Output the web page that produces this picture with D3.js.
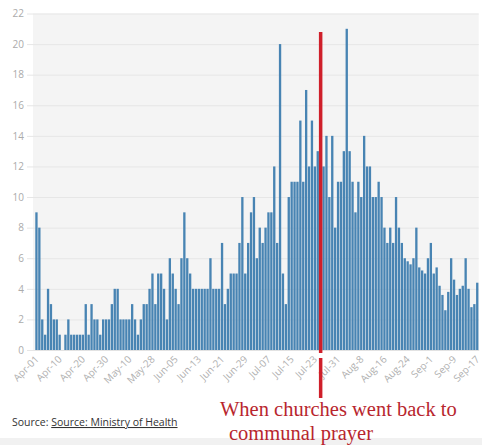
<!DOCTYPE html>
<html><head><meta charset="utf-8">
<script src="https://cdn.jsdelivr.net/npm/d3@7"></script>
<style>
body{margin:0;background:#fff;}
svg{display:block;}
</style>
</head><body>
<svg id="chart" width="482" height="445"></svg>
<script>
// ---- data ----
const values = [
  9,8,2,1,4,3,2,2,1,0,1,2,1,1,1,1,1,3,1,3,2,2,1,2,2,2,3,4,4,2,2,2,2,
  3,2,1,2,3,3,4,5,3,5,5,4,2,6,5,4,3,6,
  9,
  6,5,4,4,4,4,4,4,6,4,4,4,7,3,4,5,5,5,
  7,10,5,7,9,10,6,8,7,8,9,9,12,7,20,5,3,10,11,11,11,15,11,17,12,15,12,13,
  12,12,14,10,14,8,11,11,13,21,13,11,9,11,10,14,12,12,10,10,11,
  10,8,7,8,7,10,8,7,6,5.8,5.6,6,8,5.4,5.2,5,6,7,5,5.4,4.2,3.6,2.6,3.8,6,4.6,3.6,4,4.2,6,4,2.8,3,4.4
];
const tickLabels = ["Apr-01","Apr-10","Apr-20","Apr-30","May-10","May-28","Jun-05","Jun-13","Jun-21","Jun-29",
  "Jul-07","Jul-15","Jul-23","Jul-31","Aug-8","Aug-16","Aug-24","Sep-1","Sep-9","Sep-17"];
const tickEvery = 8;
const yTicks = [0,2,4,6,8,10,12,14,16,18,20,22];
const markerCategory = 98;
const annotationLines = ["When churches went back to", "communal prayer"];
const sourcePrefix = "Source: ";
const sourceLink = "Source: Ministry of Health";

const categories = values.map((v, i) => i);

// ---- layout ----
const svg = d3.select("#chart");
const plotL = 35, plotR = 478.7, plotT = 13.5, plotB = 350;

const x = d3.scaleBand().domain(categories).range([plotL, plotR]).paddingInner(0.2).paddingOuter(0.1);
const y = d3.scaleLinear().domain([0, 22]).range([plotB, plotT]);

// plot background
svg.append("rect").attr("x", 33).attr("y", plotT).attr("width", plotR - 33).attr("height", plotB - plotT)
  .attr("fill", "#f4f4f4");

// bottom band
svg.append("rect").attr("x", 0).attr("y", 438).attr("width", 482).attr("height", 7).attr("fill", "#f1f1f1");

// grid + y labels
const yAxis = d3.axisLeft(y).tickValues(yTicks).tickSize(-(plotR - 27)).tickPadding(3).tickFormat(d3.format("d"));
const gy = svg.append("g").attr("transform", `translate(27,0)`).call(yAxis);
gy.select(".domain").remove();
gy.selectAll(".tick line").attr("stroke", "#e6e6e6").attr("stroke-width", 1);
gy.selectAll(".tick text").attr("fill", "#ababab").attr("font-size", "10px")
  .attr("font-family", "'Open Sans', 'Noto Sans', sans-serif");

// bars
svg.append("g").selectAll("rect").data(values).join("rect")
  .attr("x", (d, i) => x(categories[i]))
  .attr("y", d => y(d))
  .attr("width", x.bandwidth())
  .attr("height", d => plotB - y(d))
  .attr("fill", "#4884b3");

// x axis
const xAxis = d3.axisBottom(x)
  .tickValues(categories.filter(i => i % tickEvery === 0))
  .tickSize(0).tickPadding(0)
  .tickFormat(i => tickLabels[i / tickEvery]);
const gx = svg.append("g").attr("transform", `translate(0,${plotB})`).call(xAxis);
gx.select(".domain").attr("stroke", "#e2e2e2");
gx.selectAll(".tick text")
  .attr("fill", "#b0b0b0").attr("font-size", "10px")
  .attr("font-family", "'Open Sans', 'Noto Sans', sans-serif")
  .attr("text-anchor", "end").attr("dy", null).attr("y", 0)
  .attr("transform", "translate(3,10) rotate(-45)");

// red marker line
const mx = x(markerCategory) + x.bandwidth() / 2;
svg.append("line").attr("x1", mx).attr("x2", mx).attr("y1", 32).attr("y2", 353)
  .attr("stroke", "#cf1f2a").attr("stroke-width", 3.5);
svg.append("line").attr("x1", mx).attr("x2", mx).attr("y1", 358).attr("y2", 398)
  .attr("stroke", "#cf1f2a").attr("stroke-width", 3.5);

// source
const src = svg.append("text").attr("x", 12).attr("y", 426)
  .attr("font-family", "'Open Sans', 'Noto Sans', sans-serif").attr("font-size", "10.5px").attr("fill", "#333");
src.append("tspan").text(sourcePrefix);
src.append("tspan").text(sourceLink).attr("text-decoration", "underline");

// annotation
svg.append("text").attr("x", 220).attr("y", 416)
  .attr("font-family", "'Liberation Serif', 'Times New Roman', serif").attr("font-size", "20.5px")
  .attr("fill", "#b8262e").text(annotationLines[0]);
svg.append("text").attr("x", 229).attr("y", 440)
  .attr("font-family", "'Liberation Serif', 'Times New Roman', serif").attr("font-size", "20.5px")
  .attr("fill", "#b8262e").text(annotationLines[1]);
</script>
</body></html>
